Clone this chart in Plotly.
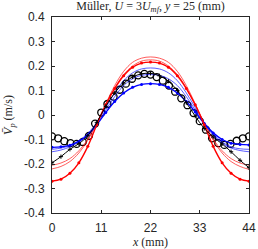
import plotly.graph_objects as go

# Experimental data (open circles)
x_exp = [0, 1.375, 2.75, 4.125, 5.5, 6.875, 8.25, 9.625, 11, 12.375, 13.75, 15.125,
         16.5, 17.875, 19.25, 20.625, 22, 23.375, 24.75, 26.125, 27.5, 28.875, 30.25,
         31.625, 33, 34.375, 35.75, 37.125, 38.5, 39.875, 41.25, 42.625, 44]
v_exp = [-0.087, -0.095, -0.107, -0.115, -0.118, -0.110, -0.085, -0.035, 0.010, 0.045,
         0.075, 0.103, 0.128, 0.148, 0.162, 0.168, 0.165, 0.155, 0.140, 0.120, 0.095,
         0.068, 0.040, 0.008, -0.025, -0.060, -0.095, -0.115, -0.122, -0.118, -0.105,
         -0.095, -0.087]

# Simulation results
x_sim = [0, 2, 4, 6, 8, 10, 12, 14, 16, 18, 20, 22, 24, 26, 28, 30, 32, 34, 36, 38, 40, 42, 44]
v_black = [-0.195, -0.170, -0.140, -0.117, -0.085, -0.030, 0.035, 0.090, 0.130, 0.155, 0.168,
           0.170, 0.160, 0.138, 0.100, 0.050, -0.005, -0.055, -0.090, -0.118, -0.150, -0.185, -0.215]
v_red = [-0.270, -0.262, -0.238, -0.195, -0.128, -0.040, 0.042, 0.108, 0.160, 0.195, 0.212,
         0.216, 0.212, 0.195, 0.160, 0.108, 0.042, -0.040, -0.128, -0.195, -0.238, -0.262, -0.270]
v_red_thin1 = [-0.220, -0.210, -0.190, -0.155, -0.103, -0.033, 0.045, 0.120, 0.178, 0.215, 0.232,
               0.237, 0.232, 0.215, 0.178, 0.120, 0.045, -0.033, -0.103, -0.155, -0.190, -0.210, -0.222]
v_red_thin2 = [-0.205, -0.196, -0.178, -0.146, -0.098, -0.033, 0.040, 0.110, 0.165, 0.200, 0.220,
               0.225, 0.220, 0.200, 0.165, 0.110, 0.040, -0.033, -0.098, -0.146, -0.178, -0.196, -0.205]
v_blue = [-0.132, -0.130, -0.123, -0.108, -0.082, -0.040, 0.010, 0.055, 0.090, 0.113, 0.125,
          0.128, 0.125, 0.113, 0.090, 0.055, 0.012, -0.035, -0.073, -0.100, -0.115, -0.120, -0.122]
v_blue_thin1 = [-0.140, -0.135, -0.125, -0.105, -0.075, -0.030, 0.030, 0.090, 0.140, 0.172, 0.188,
                0.192, 0.188, 0.172, 0.140, 0.090, 0.030, -0.030, -0.078, -0.110, -0.130, -0.138, -0.140]
v_blue_thin2 = [-0.150, -0.143, -0.130, -0.110, -0.080, -0.035, 0.020, 0.075, 0.120, 0.148, 0.162,
                0.165, 0.162, 0.148, 0.120, 0.075, 0.020, -0.035, -0.082, -0.115, -0.135, -0.145, -0.150]

x_ticks = [0, 11, 22, 33, 44]
y_ticks = [-0.4, -0.3, -0.2, -0.1, 0, 0.1, 0.2, 0.3, 0.4]
y_ticklabels = ["-0.4", "-0.3", "-0.2", "-0.1", "0", "0.1", "0.2", "0.3", "0.4"]

RED = "#ff0000"
BLUE = "#0000ff"
BLACK = "#000000"

fig = go.Figure()

fig.add_trace(go.Scatter(x=x_exp, y=v_exp, mode="markers",
                         marker=dict(symbol="circle-open", size=7, color=BLACK,
                                     line=dict(width=1.3, color=BLACK)),
                         showlegend=False))

for v, c in [(v_red_thin1, RED), (v_red_thin2, RED), (v_blue_thin1, BLUE), (v_blue_thin2, BLUE)]:
    fig.add_trace(go.Scatter(x=x_sim, y=v, mode="lines",
                             line=dict(color=c, width=0.8, shape="spline"),
                             opacity=0.8, showlegend=False))

fig.add_trace(go.Scatter(x=x_sim, y=v_blue, mode="lines+markers",
                         line=dict(color=BLUE, width=1.4, shape="spline"),
                         marker=dict(symbol="circle", size=3, color=BLUE),
                         showlegend=False))
fig.add_trace(go.Scatter(x=x_sim, y=v_red, mode="lines+markers",
                         line=dict(color=RED, width=1.4, shape="spline"),
                         marker=dict(symbol="circle", size=3, color=RED),
                         showlegend=False))
fig.add_trace(go.Scatter(x=x_sim, y=v_black, mode="lines+markers",
                         line=dict(color=BLACK, width=1.0, shape="spline"),
                         marker=dict(symbol="cross-thin-open", size=3, color=BLACK,
                                     line=dict(width=1, color=BLACK)),
                         showlegend=False))

AX = "#262626"
fig.update_layout(
    width=258, height=249,
    margin=dict(l=52, r=9, t=17, b=36, autoexpand=False),
    paper_bgcolor="white", plot_bgcolor="white",
    title=dict(text="Müller, <i>U</i> = 3<i>U</i><sub><i>mf</i></sub>, <i>y</i> = 25 (mm)",
               xref="paper", x=0.5, xanchor="center",
               yref="container", y=0.995, yanchor="top",
               font=dict(family="Liberation Serif", size=12, color=AX)),
    xaxis=dict(range=[0, 44], tickvals=x_ticks, ticktext=[str(t) for t in x_ticks],
               showline=True, mirror="ticks", linecolor=AX, linewidth=1,
               ticks="inside", ticklen=3, tickcolor=AX, showgrid=False, zeroline=False,
               automargin=False, ticklabeloverflow="allow", ticklabelstandoff=4,
               tickfont=dict(family="Liberation Sans", size=12, color=AX),
               title=dict(text="<i>x</i> (mm)", standoff=5,
                          font=dict(family="Liberation Serif", size=12, color=AX))),
    yaxis=dict(range=[-0.4, 0.4], tickvals=y_ticks, ticktext=y_ticklabels,
               showline=True, mirror="ticks", linecolor=AX, linewidth=1,
               ticks="inside", ticklen=3, tickcolor=AX, showgrid=False, zeroline=False,
               automargin=False, ticklabeloverflow="allow", ticklabelstandoff=4,
               tickfont=dict(family="Liberation Sans", size=12, color=AX),
               title=dict(text="<i>V̄</i><sub><i>p</i></sub> (m/s)", standoff=8,
                          font=dict(family="Liberation Serif", size=12, color=AX))),
)

fig.write_html("out.html", config={"displayModeBar": False},
               post_script="document.body.style.margin='0';document.body.style.overflow='hidden';")
